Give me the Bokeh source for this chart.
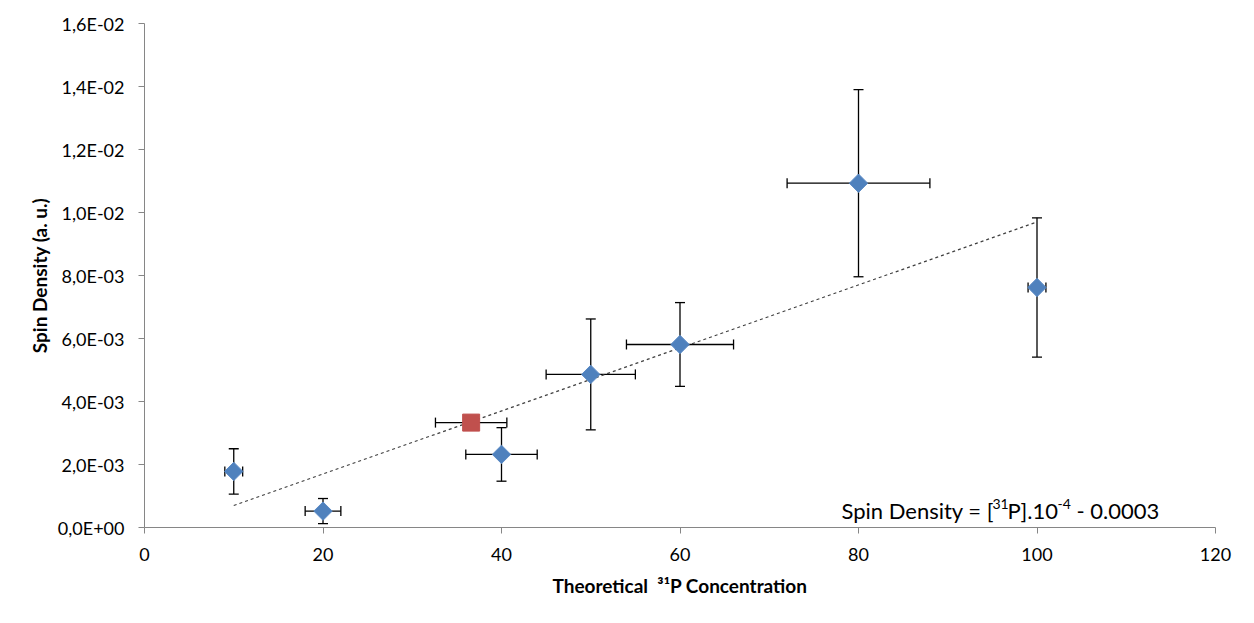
import numpy as np
from bokeh.plotting import figure
from bokeh.models import (ColumnDataSource, Whisker, TeeHead, FixedTicker,
                          CustomJSTickFormatter, Label, Range1d)
from bokeh.embed import file_html
from bokeh.resources import INLINE

# ---- data ----
x_blue = [10, 20, 40, 50, 60, 80, 100]
y_blue = [0.00178, 0.00052, 0.00232, 0.00486, 0.00581, 0.01093, 0.00762]
yerr_blue = [0.00072, 0.00040, 0.00085, 0.00176, 0.00133, 0.00297, 0.00221]
xerr_blue = [1, 2, 4, 5, 6, 8, 1]

x_red = [36.6]
y_red = [0.00333]
xerr_red = [4]

fit_slope = 1.0e-4
fit_intercept = -0.0003
fit_x = [10, 100]

x_ticks = [0, 20, 40, 60, 80, 100, 120]
y_ticks = [0, 0.002, 0.004, 0.006, 0.008, 0.010, 0.012, 0.014, 0.016]

FONT = "Lato"

W, H = 1238, 607
BL, BR, BT, BB = 144, 23, 23, 80
X0, X1, Y0, Y1 = 0, 120, 0, 0.016
FW, FH = W - BL - BR, H - BT - BB

def px2x(px):
    return X0 + (px - BL) * (X1 - X0) / FW

def py2y(py):
    return Y0 + (H - BB - py) * (Y1 - Y0) / FH

p = figure(width=W, height=H, output_backend="svg", toolbar_location=None,
           x_range=Range1d(X0, X1), y_range=Range1d(Y0, Y1),
           min_border_left=BL, min_border_right=BR, min_border_top=BT,
           min_border_bottom=BB)
p.outline_line_color = None
p.xgrid.visible = False
p.ygrid.visible = False
p.background_fill_color = "white"

for ax in (p.xaxis[0], p.yaxis[0]):
    ax.axis_line_color = "#868686"
    ax.major_tick_line_color = "#868686"
    ax.minor_tick_line_color = None
    ax.major_tick_in = 0
    ax.major_tick_out = 6
    ax.major_label_text_font = FONT
    ax.major_label_text_font_size = "18px"
    ax.major_label_text_color = "#000000"
    ax.axis_label_text_font = FONT
    ax.axis_label_text_font_style = "bold"
    ax.axis_label_text_font_size = "19px"
    ax.axis_label_text_color = "#000000"

p.xaxis.ticker = FixedTicker(ticks=x_ticks)
p.yaxis.ticker = FixedTicker(ticks=y_ticks)
p.xaxis.major_label_standoff = 14
p.yaxis.major_label_standoff = 14
p.yaxis.axis_label = "Spin Density (a. u.)"
p.yaxis.axis_label_standoff = 4
p.xaxis.axis_label = "Theoretical\u00a0 \u00b3\u00b9P Concentration"
p.xaxis.axis_label_standoff = 10

p.yaxis.formatter = CustomJSTickFormatter(code="""
    if (Math.abs(tick) < 1e-12) { return "0,0E+00"; }
    let e = Math.floor(Math.log10(Math.abs(tick)) + 1e-9);
    let m = tick / Math.pow(10, e);
    let s = m.toFixed(1).replace('.', ',');
    let ae = Math.abs(e);
    return s + "E" + (e < 0 ? "-" : "+") + (ae < 10 ? "0" : "") + ae;
""")

# trend line
fx = np.array(fit_x, dtype=float)
fy = fit_slope * fx + fit_intercept
p.line(fx, fy, line_color="#404040", line_width=1.2, line_dash="3 3")

src_b = ColumnDataSource(dict(
    x=x_blue, y=y_blue,
    yl=[y - e for y, e in zip(y_blue, yerr_blue)],
    yu=[y + e for y, e in zip(y_blue, yerr_blue)],
    xl=[x - e for x, e in zip(x_blue, xerr_blue)],
    xu=[x + e for x, e in zip(x_blue, xerr_blue)],
))
src_r = ColumnDataSource(dict(
    x=x_red, y=y_red,
    xl=[x - e for x, e in zip(x_red, xerr_red)],
    xu=[x + e for x, e in zip(x_red, xerr_red)],
))

def head():
    return TeeHead(size=10, line_color="black", line_width=1.3)

for src, dim, base, lo, up in [(src_b, "height", "x", "yl", "yu"),
                                (src_b, "width", "y", "xl", "xu"),
                                (src_r, "width", "y", "xl", "xu")]:
    p.add_layout(Whisker(source=src, base=base, lower=lo, upper=up, dimension=dim,
                         line_color="black", line_width=1.3,
                         upper_head=head(), lower_head=head()))

p.scatter("x", "y", source=src_b, marker="square", size=13, angle=np.pi / 4,
          fill_color="#4F81BD", line_color="#5B8BC6", line_width=1)
p.scatter("x", "y", source=src_r, marker="square", size=17,
          fill_color="#C0504D", line_color="#C0504D", line_width=1)

def txt(s, px, py, size, bold=False):
    p.add_layout(Label(x=px2x(px), y=py2y(py), text=s, text_font=FONT,
                       text_font_size=size, text_color="black",
                       text_font_style="bold" if bold else "normal",
                       text_baseline="alphabetic", text_align="left"))

# regression equation with superscripts
EQ_BASE, EQ_SUP = 510, 503
txt("Spin Density = [", 841, EQ_BASE, "22px")
txt("31", 992, EQ_SUP, "14px")
txt("P].10", 1007, EQ_BASE, "22px")
txt("-4", 1057, EQ_SUP, "14px")
txt("- 0.0003", 1076, EQ_BASE, "22px")

open("out.html", "w").write(file_html(p, INLINE))
